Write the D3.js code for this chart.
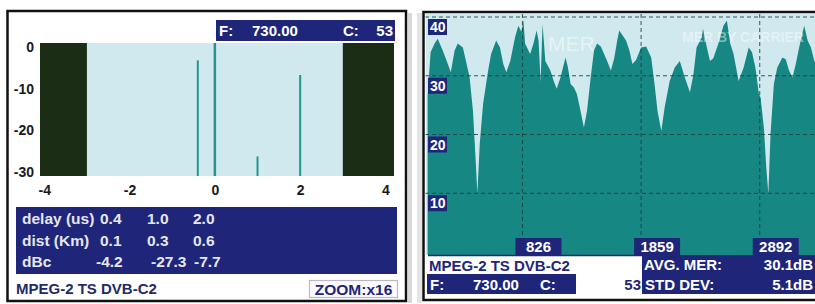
<!DOCTYPE html>
<html><head><meta charset="utf-8">
<script src="https://cdn.jsdelivr.net/npm/d3@7"></script>
<style>
html,body{margin:0;padding:0;background:#fff;}
svg{display:block;font-family:"Liberation Sans",Arial,sans-serif;font-weight:bold;}
</style></head>
<body><svg id="c" width="815" height="304"></svg>
<script>
// ---------- DATA ----------
// Echo (impulse response) panel
const echoPos   = [-0.4, 0, 1.0, 2.0];      // us
const echoLevel = [-4.2, 0, -27.3, -7.7];   // dBc
const guardZones = [[-4.1, -3], [3, 4.2]];
const echoXTicks = [-4, -2, 0, 2, 4];
const echoYTicks = [0, -10, -20, -30];
const tableLabels = ["delay (us)", "dist (Km)", "dBc"];
const tableDelay = ["0.4", "1.0", "2.0"];
const tableDist  = ["0.1", "0.3", "0.6"];
const tableDbc   = ["-4.2", "-27.3", "-7.7"];
const freqText = "730.00", chanText = "53";
const standardText = "MPEG-2 TS DVB-C2";
const zoomText = "ZOOM:x16";

// MER by carrier panel
const merCarrier = [0,26,61,88,132,176,202,235,263,307,334,366,395,419,433,454,483,527,553,597,630,659,685,720,761,790,817,834,849,893,922,949,966,984,1001,1025,1069,1098,1124,1157,1201,1221,1245,1274,1300,1332,1361,1388,1420,1449,1476,1508,1537,1563,1596,1625,1651,1669,1728,1757,1783,1815,1859,1903,1947,1976,2002,2035,2064,2108,2152,2196,2240,2284,2313,2342,2386,2398,2430,2459,2488,2532,2576,2606,2635,2664,2708,2752,2796,2825,2854,2884,2899,2928,2949,2967,2986,3015,3045,3089,3118,3147,3177,3206,3235,3279,3309,3338,3367,3408];
const merValue   = [26.5,34,35.5,36.3,34.3,32,30.6,34.3,35.5,34.8,32.5,29.7,24,15.5,9.9,18.4,25.2,30.9,33.7,36,34.8,32,30.6,32.5,36.5,38.5,37.5,39.5,35.5,33.7,35.5,37.7,36,29,38.8,32.5,30.9,29.1,27.8,29.7,33.1,31.5,28.6,28,26.9,24,21.2,24,29.7,34.3,35.5,35,33.7,32.5,30.9,33,36,37.7,36,34.3,32,32.7,34.8,35,33.1,28.6,24,20.6,24.6,29.1,31.4,32.5,29.7,27.2,30,34.8,36.5,38,35,32.5,33,35.5,38.5,39.4,35.5,33.7,29.1,31.4,34.8,34,31.4,27,26.3,21.2,14.4,9.9,20.1,28.6,31.4,33.1,32.8,30.9,29.7,32,34.8,38.5,36,34.8,32.5,31];
const merYTicks = [40, 30, 20, 10];
const merXTicks = [826, 1859, 2892];
const avgMer = "30.1dB", stdDev = "5.1dB";

// ---------- STYLE ----------
const NAVY = "#1f267a", TEAL = "#178784", LIGHT = "#cfe9ee", DARKG = "#1b2d14";
const FONT = "Liberation Sans, Arial, sans-serif";

const svg = d3.select("#c");

// ===== LEFT PANEL: echo =====
svg.append("rect").attr("x", 408).attr("y", 13).attr("width", 4).attr("height", 290).attr("fill", "#d9d9d9");
svg.append("rect").attr("x", 7.5).attr("y", 11).attr("width", 398.5).attr("height", 290)
  .attr("fill", "#fff").attr("stroke", "#111").attr("stroke-width", 2.5);

const xE = d3.scaleLinear().domain([-4.1, 4.2]).range([40, 394]);
const yE = d3.scaleLinear().domain([-32, 0]).range([176, 43]);

svg.append("rect").attr("x", xE.range()[0]).attr("y", yE.range()[1])
  .attr("width", xE.range()[1] - xE.range()[0]).attr("height", yE.range()[0] - yE.range()[1])
  .attr("fill", LIGHT);
svg.selectAll("rect.guard").data(guardZones).join("rect").attr("class", "guard")
  .attr("x", d => xE(d[0])).attr("width", d => xE(d[1]) - xE(d[0]))
  .attr("y", yE(0)).attr("height", yE(-32) - yE(0)).attr("fill", DARKG);
svg.selectAll("line.echo").data(echoPos).join("line").attr("class", "echo")
  .attr("x1", d => xE(d)).attr("x2", d => xE(d))
  .attr("y1", (d, i) => yE(echoLevel[i])).attr("y2", yE(-32))
  .attr("stroke", "#24948f").attr("stroke-width", (d, i) => echoLevel[i] === 0 ? 2.5 : 2);

// axes
const axL = svg.append("g").attr("transform", `translate(${xE.range()[0]},0)`)
  .call(d3.axisLeft(yE).tickValues(echoYTicks).tickFormat(d => String(d)).tickSize(0).tickPadding(6));
axL.select(".domain").remove();
axL.selectAll("text").attr("dy", "0.32em").attr("transform", "translate(0,4)")
  .attr("font-size", 14).attr("font-weight", "bold").attr("fill", "#1a1a1a")
  .attr("font-family", FONT);
const axB = svg.append("g").attr("transform", `translate(0,${yE.range()[0]})`)
  .call(d3.axisBottom(xE).tickValues(echoXTicks).tickFormat(d => String(d)).tickSize(0).tickPadding(9));
axB.select(".domain").remove();
axB.selectAll("text").attr("font-size", 14).attr("font-weight", "bold").attr("fill", "#1a1a1a")
  .attr("font-family", FONT);

// header
svg.append("rect").attr("x", 216).attr("y", 20).attr("width", 179).attr("height", 21).attr("fill", NAVY);
const hdr = svg.append("g").attr("fill", "#fff").attr("font-size", 15);
hdr.append("text").attr("x", 219).attr("y", 36).text("F:");
hdr.append("text").attr("x", 252).attr("y", 36).text(freqText);
hdr.append("text").attr("x", 343).attr("y", 36).text("C:");
hdr.append("text").attr("x", 393).attr("y", 36).attr("text-anchor", "end").text(chanText);

// table
svg.append("rect").attr("x", 16).attr("y", 207).attr("width", 381).attr("height", 67).attr("fill", NAVY);
const rowsY = [224, 245.5, 267];
const tbl = svg.append("g").attr("fill", "#e6e6ef").attr("font-size", 15.5);
tableLabels.forEach((t, i) => tbl.append("text").attr("x", 22).attr("y", rowsY[i]).text(t));
const colX = [100, 147, 193], dbcX = [96, 151, 194];
tableDelay.forEach((t, i) => tbl.append("text").attr("x", colX[i]).attr("y", rowsY[0]).text(t));
tableDist.forEach((t, i) => tbl.append("text").attr("x", colX[i]).attr("y", rowsY[1]).text(t));
tableDbc.forEach((t, i) => tbl.append("text").attr("x", dbcX[i]).attr("y", rowsY[2]).text(t));

// footer
svg.append("text").attr("x", 16).attr("y", 294).attr("font-size", 15).attr("fill", "#1f2a66").text(standardText);
svg.append("rect").attr("x", 309.5).attr("y", 280.5).attr("width", 88).attr("height", 17)
  .attr("fill", "#fbfbff").attr("stroke", "#b8b8c8").attr("stroke-width", 1.2);
svg.append("text").attr("x", 353.5).attr("y", 294.5).attr("text-anchor", "middle")
  .attr("font-size", 15.5).attr("fill", NAVY).text(zoomText);

// ===== RIGHT PANEL: MER by carrier =====
svg.append("rect").attr("x", 417).attr("y", 13).attr("width", 5).attr("height", 290).attr("fill", "#e4e4e4");
svg.append("rect").attr("x", 423.5).attr("y", 12).attr("width", 400).attr("height", 288)
  .attr("fill", "#fff").attr("stroke", "#111").attr("stroke-width", 2.5);

const xM = d3.scaleLinear().domain([0, 3408]).range([427.6, 819]);
const yM = d3.scaleLinear().domain([0, 40]).range([252, 17]);
const plotTop = 14, plotBottom = 255;

svg.append("clipPath").attr("id", "mclip").append("rect")
  .attr("x", 425.5).attr("y", plotTop).attr("width", 400).attr("height", plotBottom - plotTop);
const pm = svg.append("g").attr("clip-path", "url(#mclip)");
pm.append("rect").attr("x", 425.5).attr("y", plotTop).attr("width", 400).attr("height", plotBottom - plotTop).attr("fill", LIGHT);

const merData = merCarrier.map((c, i) => ({c, v: merValue[i]}));
pm.append("path").datum(merData)
  .attr("d", d3.area().x(d => xM(d.c)).y0(plotBottom).y1(d => yM(d.v)))
  .attr("fill", TEAL);

// watermarks
pm.append("text").attr("x", 548).attr("y", 51).attr("font-size", 21).attr("font-weight", "normal")
  .attr("fill", "#fff").attr("fill-opacity", 0.5).text("MER");
pm.append("text").attr("x", 682).attr("y", 42).attr("font-size", 14)
  .attr("fill", "#fff").attr("fill-opacity", 0.45).text("MER BY CARRIER");

// grid
pm.selectAll("line.hg").data(merYTicks).join("line").attr("class", "hg")
  .attr("x1", 425).attr("x2", 820).attr("y1", d => yM(d)).attr("y2", d => yM(d))
  .attr("stroke", "#163f38").attr("stroke-width", 1).attr("stroke-dasharray", "4,3").attr("stroke-opacity", 0.85);
pm.selectAll("line.vg").data(merXTicks).join("line").attr("class", "vg")
  .attr("x1", d => xM(d)).attr("x2", d => xM(d)).attr("y1", plotTop).attr("y2", plotBottom)
  .attr("stroke", "#163f38").attr("stroke-width", 1).attr("stroke-dasharray", "4,3").attr("stroke-opacity", 0.85);

// y labels
const yl = svg.selectAll("g.yl").data(merYTicks).join("g").attr("class", "yl")
  .attr("transform", d => `translate(428,${yM(d) + 2})`);
yl.append("rect").attr("width", 19).attr("height", 16).attr("fill", NAVY);
yl.append("text").attr("x", 2).attr("y", 13).attr("font-size", 14).attr("fill", "#fff").text(d => d);

// x labels
const xl = svg.selectAll("g.xl").data(merXTicks).join("g").attr("class", "xl")
  .attr("transform", d => `translate(${xM(d) - 7},238)`);
xl.append("rect").attr("width", 46).attr("height", 17).attr("fill", NAVY);
xl.append("text").attr("x", 23).attr("y", 14).attr("text-anchor", "middle").attr("font-size", 15).attr("fill", "#fff").text(d => d);

// status area
svg.append("rect").attr("x", 426).attr("y", 255).attr("width", 216).attr("height", 19).attr("fill", "#fff");
svg.append("line").attr("x1", 428).attr("x2", 642).attr("y1", 255.5).attr("y2", 255.5).attr("stroke", NAVY).attr("stroke-width", 1.5);
svg.append("text").attr("x", 429).attr("y", 270.5).attr("font-size", 15).attr("fill", NAVY).text(standardText);
svg.append("rect").attr("x", 427).attr("y", 274).attr("width", 149).attr("height", 20).attr("fill", NAVY);
const fr = svg.append("g").attr("fill", "#fff").attr("font-size", 15);
fr.append("text").attr("x", 430).attr("y", 289.5).text("F:");
fr.append("text").attr("x", 473).attr("y", 289.5).text(freqText);
fr.append("text").attr("x", 540).attr("y", 289.5).text("C:");
svg.append("text").attr("x", 641).attr("y", 289.5).attr("text-anchor", "end").attr("font-size", 15).attr("fill", NAVY).text(chanText);
svg.append("rect").attr("x", 642).attr("y", 255).attr("width", 175).attr("height", 39).attr("fill", NAVY);
const st = svg.append("g").attr("fill", "#fff").attr("font-size", 15);
st.append("text").attr("x", 644).attr("y", 270).text("AVG. MER:");
st.append("text").attr("x", 813).attr("y", 270).attr("text-anchor", "end").text(avgMer);
st.append("text").attr("x", 645).attr("y", 289.5).text("STD DEV:");
st.append("text").attr("x", 813).attr("y", 289.5).attr("text-anchor", "end").text(stdDev);
</script></body></html>
